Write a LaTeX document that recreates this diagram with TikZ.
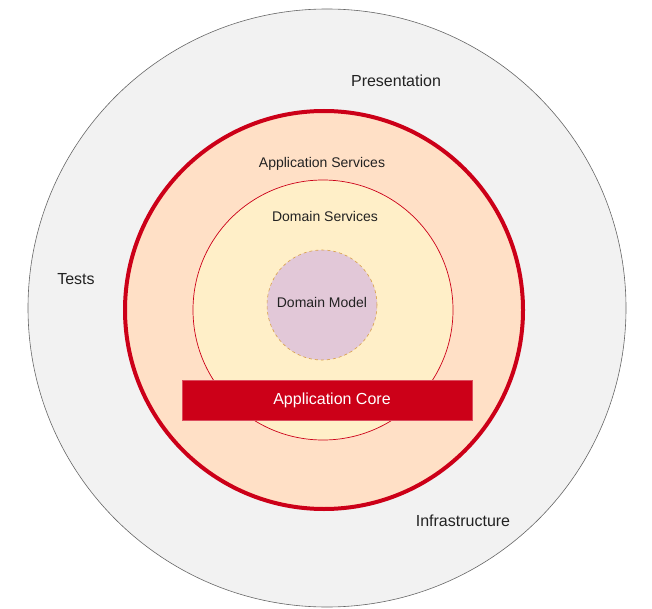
\documentclass[tikz,border=0pt]{standalone}
\usepackage{fontspec}
\setmainfont{Liberation Sans}
\usetikzlibrary{positioning}

\definecolor{ringgrey}{HTML}{F2F2F2}
\definecolor{ringline}{HTML}{666666}
\definecolor{corered}{HTML}{CC0018}
\definecolor{peach}{HTML}{FFE0C6}
\definecolor{cream}{HTML}{FFEFC8}
\definecolor{lilac}{HTML}{E2C8D8}
\definecolor{dashorange}{HTML}{D9A048}
\definecolor{textgrey}{HTML}{222222}

\begin{document}
\begin{tikzpicture}[x=1pt, y=-1pt, auto]
          \tikzstyle{ring} = [circle, inner sep=0pt]
          \tikzstyle{layertext} = [text=textgrey, inner sep=0pt]
          \useasboundingbox (0,0) rectangle (652,609);

          \node[ring, fill=ringgrey, draw=ringline, line width=0.6pt,
                minimum size=598pt] (infrastructure) at (327,308) {};
          \node[ring, fill=peach, draw=corered, line width=4pt,
                minimum size=398pt] (appservices) at (324,310) {};
          \node[ring, fill=cream, draw=corered, line width=0.7pt,
                minimum size=260pt] (domservices) at (323,310) {};
          \node[ring, fill=lilac, draw=dashorange, dashed, line width=0.6pt,
                minimum size=110pt] (dommodel) at (322,305) {};

          \node[rectangle, fill=corered, draw=corered!70!white, line width=0.6pt,
                minimum width=290pt, minimum height=40pt] (core) at (327,400) {};
          \node[text=white, inner sep=0pt, font=\fontsize{16}{19}\selectfont]
            (coretext) at ([xshift=5pt]core) {Application Core};

          \node[layertext, font=\fontsize{16}{19}\selectfont] (presentation)
            at (396,81) {Presentation};
          \node[layertext, font=\fontsize{16}{19}\selectfont] (tests)
            at (76,279) {Tests};
          \node[layertext, font=\fontsize{16}{19}\selectfont] (infra)
            at (463,521) {Infrastructure};
          \node[layertext, font=\fontsize{14}{17}\selectfont] (appservtext)
            at (322,164) {Application Services};
          \node[layertext, font=\fontsize{14}{17}\selectfont] (domservtext)
            at (325,216) {Domain Services};
          \node[layertext, font=\fontsize{14}{17}\selectfont] (dommodeltext)
            at (322,302) {Domain Model};
        \end{tikzpicture}
\end{document}
